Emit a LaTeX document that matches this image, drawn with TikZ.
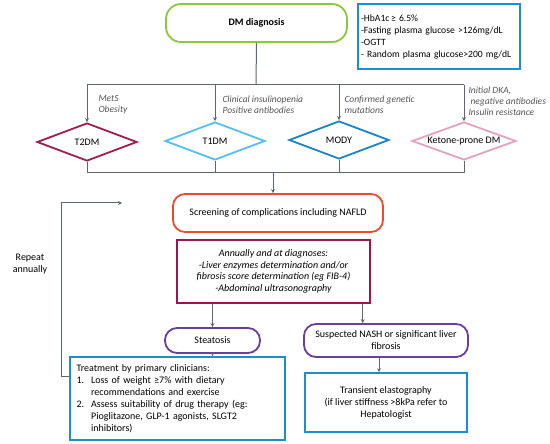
\documentclass[tikz,border=0pt]{standalone}
\usepackage{fontspec}
\setmainfont{Carlito}
\usepackage{enumitem}
\usetikzlibrary{shapes.geometric, arrows.meta, positioning, calc}
\definecolor{dmGreen}{HTML}{8DC63F}
\definecolor{critBlue}{HTML}{1A8FCB}
\definecolor{typeMaroon}{HTML}{9E1F4F}
\definecolor{typeSky}{HTML}{52C0F0}
\definecolor{typeBlue}{HTML}{1B84C4}
\definecolor{typePink}{HTML}{E6A0C0}
\definecolor{screenRed}{HTML}{EE4B2B}
\definecolor{planMaroon}{HTML}{9B1554}
\definecolor{stagePurple}{HTML}{6A3DA0}
\definecolor{noteGray}{HTML}{555555}
\definecolor{lineGray}{HTML}{5B6778}
\tikzset{
  roundbox/.style={draw=#1, line width=1.8pt, rounded corners=12pt, fill=white,
                   align=center, font=\fontsize{10}{12}\selectfont},
  sqbox/.style={draw=#1, line width=1.6pt, fill=white, font=\fontsize{10}{12}\selectfont},
  dmtype/.style={draw=#1, line width=1.8pt, diamond, aspect=2.6, inner sep=0pt,
                 minimum width=100pt, minimum height=38pt, fill=white, font=\fontsize{10}{11}\selectfont},
  note/.style={anchor=north west, align=left, color=noteGray,
               font=\fontsize{9.5}{11}\selectfont\itshape},
  flow/.style={-{Stealth[length=4pt, width=4pt]}, line width=1pt, color=lineGray},
  link/.style={line width=1pt, color=lineGray},
}

\begin{document}
\begin{tikzpicture}[x=1pt, y=-1pt]
\useasboundingbox (0,0) rectangle (550,444);

% diagnosis and criteria
\node[roundbox=dmGreen, rounded corners=15pt, minimum width=181pt, minimum height=38pt,
      font=\fontsize{10}{12}\selectfont\bfseries] (dm) at (256.5,23) {DM diagnosis};
\node[sqbox=critBlue, minimum width=162pt, minimum height=65pt, inner xsep=3pt, text width=156pt,
      align=left, font=\fontsize{9.6}{12}\selectfont]
  (crit) at (439,36.5) {-HbA1c\,≥ 6.5\%\\-Fasting plasma glucose >126mg/dL\\-OGTT\\- Random plasma glucose>200 mg/dL};

% types of DM
\node[dmtype=typeMaroon] (t2dm) at (87,142) {T2DM};
\node[dmtype=typeSky] (t1dm) at (215,141) {T1DM};
\node[dmtype=typeBlue] (mody) at (339,140) {MODY};
\node[dmtype=typePink, minimum width=104pt] (kpdm) at (464,141) {Ketone-prone DM};

\node[note] (n2) at (95,92) {MetS\\Obesity};
\node[note] (n1) at (219,92) {Clinical insulinopenia\\Positive antibodies};
\node[note] (nm) at (341,92) {Confirmed genetic\\mutations};
\node[note] (nk) at (465,83) {Initial DKA,\\\hspace{2pt}negative antibodies\\Insulin resistance};

\coordinate (busTop) at (256,85);
\coordinate (busLow) at (273,173);
\draw[link] (dm.south) -- (busTop);
\draw[link] (t2dm.north |- busTop) -- (kpdm.north |- busTop);
\foreach \t in {t2dm, t1dm, mody, kpdm}
  \draw[flow] (\t.north |- busTop) -- (\t.north);
\draw[link] (t2dm.south |- busLow) -- (kpdm.south |- busLow);
\foreach \t in {t2dm, t1dm, mody, kpdm}
  \draw[link] (\t.south) -- (\t.south |- busLow);

% screening
\node[roundbox=screenRed, minimum width=210pt, minimum height=38pt] (screen) at (278,213)
  {Screening of complications including NAFLD};
\draw[flow] (busLow) -- (busLow |- screen.north);

\node[sqbox=planMaroon, minimum width=193pt, minimum height=63pt, align=center,
      font=\fontsize{10}{11.7}\selectfont\itshape] (annual) at (273.5,271.5)
  {Annually and at diagnoses:\\-Liver enzymes determination and/or\\fibrosis score determination (eg FIB-4)\\-Abdominal ultrasonography};

% outcomes
\node[roundbox=stagePurple, minimum width=95pt, minimum height=25pt] (steat) at (212.5,340.5) {Steatosis};
\node[roundbox=stagePurple, minimum width=164pt, minimum height=33pt] (susp) at (386,340.5)
  {Suspected NASH or significant liver\\fibrosis};
\draw[flow] (annual.south -| steat.north) -- (steat.north);
\draw[flow] ([xshift=-8pt]annual.south east) -- ([xshift=-8pt]annual.south east |- susp.north);

\node[sqbox=critBlue, minimum width=215pt, minimum height=83pt, text width=202pt] (treat) at (177.5,398.5)
  {Treatment by primary clinicians:
   \begin{enumerate}[label=\arabic*., leftmargin=*, labelsep=7pt, nosep]
   \item Loss of weight ≥7\% with dietary recommendations and exercise
   \item Assess suitability of drug therapy (eg: Pioglitazone, GLP-1 agonists, SLGT2 inhibitors)
   \end{enumerate}};
\node[sqbox=critBlue, minimum width=162pt, minimum height=59pt, align=center] (trans) at (386,402.5)
  {Transient elastography\\(if liver stiffness >8kPa refer to\\Hepatologist};
\draw[flow] (steat.south) -- (steat.south |- treat.north);
\draw[flow] ([xshift=-7pt]susp.south) -- ([xshift=-7pt]susp.south |- trans.north);

% repeat loop
\coordinate (loopStart) at (70,376);
\coordinate (loopEnd) at (122,203);
\draw[flow] (treat.west |- loopStart) -- (61,376) |- (loopEnd);
\node[align=center, font=\fontsize{10}{12}\selectfont] (repeat) at (30,264) {Repeat\\annually};

\end{tikzpicture}
\end{document}
